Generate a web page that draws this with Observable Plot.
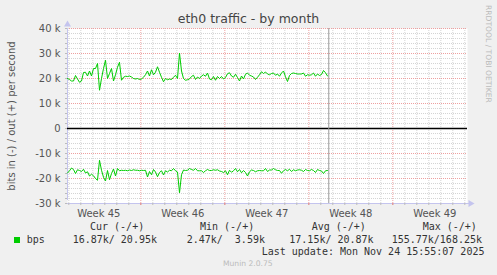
<!DOCTYPE html>
<html><head><meta charset="utf-8">
<script src="https://cdn.jsdelivr.net/npm/d3@7"></script>
<script src="https://cdn.jsdelivr.net/npm/@observablehq/plot@0.6"></script>
<style>
html,body{margin:0;padding:0;background:#f0f0f0;}
#wrap{position:relative;width:497px;height:275px;overflow:hidden;background:#f0f0f0;font-family:"DejaVu Sans",sans-serif;}
#wrap svg{position:absolute;left:0;top:0;}
.t{position:absolute;white-space:pre;line-height:1;}
.mono{font-family:"DejaVu Sans Mono",monospace;font-size:10px;color:#333;}
</style></head><body><div id="wrap"></div>
<script>
// ---- data ----
const title = "eth0 traffic - by month";
const yLabel = "bits in (-) / out (+) per second";
const weekLabels = ["Week 45", "Week 46", "Week 47", "Week 48", "Week 49"];
const yTicks = [-30000, -20000, -10000, 0, 10000, 20000, 30000, 40000];
// out (+) in kbit/s, one sample every 4 hours
const outK = [
20.0,19.6,19.0,19.0,21.2,19.8,18.5,19.0,22.4,22.5,21.0,23.0,21.0,24.0,24.0,26.0,
15.3,20.0,24.0,27.3,20.0,22.0,24.0,19.0,21.5,24.5,26.5,19.3,20.5,20.9,20.8,21.0,
20.6,20.0,19.8,20.0,19.6,19.8,20.5,21.5,23.0,21.0,23.5,21.5,22.5,24.7,22.5,20.5,
18.7,20.0,19.5,19.8,19.6,20.5,21.3,20.0,30.2,23.0,20.0,19.3,19.5,19.8,20.8,21.3,
19.6,20.6,20.0,21.0,21.5,20.9,22.2,19.8,19.5,20.8,19.3,20.8,20.0,20.8,19.8,20.4,
21.9,22.3,21.0,20.5,21.7,20.4,19.0,21.0,19.8,21.7,22.2,21.3,21.0,20.6,19.6,20.5,
21.5,22.7,22.0,22.6,21.8,21.5,22.0,22.2,21.3,21.8,20.9,22.2,23.0,20.7,18.8,21.2,
22.0,22.2,22.0,21.8,21.8,21.8,22.2,20.9,21.5,21.3,21.5,22.2,20.9,21.8,21.2,21.6,
23.2,22.3,21.0];
// in (-) in kbit/s, same samples
const inK = [
17.8,16.9,15.8,16.4,18.0,16.5,16.8,17.2,16.3,17.8,17.3,19.0,18.3,18.9,20.0,20.7,
12.7,16.7,19.5,21.0,16.8,20.5,18.0,16.2,19.0,16.0,16.9,16.7,16.8,16.7,16.9,16.6,
16.8,16.5,16.7,16.7,16.9,16.7,16.8,16.7,19.4,17.2,18.5,16.4,17.4,19.3,17.6,16.9,
18.6,16.9,17.4,16.7,16.9,16.0,16.9,17.4,25.7,18.5,16.6,16.8,16.7,16.0,16.4,16.7,
16.0,16.9,16.9,16.9,17.6,16.9,16.4,16.8,16.8,16.5,16.7,16.5,17.0,17.2,17.6,16.9,
18.5,16.7,17.5,16.9,16.0,17.3,16.4,17.7,16.8,17.6,19.0,17.3,16.6,16.8,17.3,16.9,
16.8,16.9,16.9,16.0,17.2,16.6,16.6,16.0,16.5,16.8,16.8,17.9,16.9,16.4,16.9,16.3,
17.2,16.5,16.9,16.6,16.5,16.7,17.2,16.4,16.8,16.9,16.4,16.8,17.6,16.4,16.8,17.0,
18.0,16.9,16.8];
const seriesName = "bps";
const legendHeaders = ["Cur (-/+)", "Min (-/+)", "Avg (-/+)", "Max (-/+)"];
const legendValues = ["16.87k/ 20.95k", "2.47k/  3.59k", "17.15k/ 20.87k", "155.77k/168.25k"];
const lastUpdateText = "Last update: Mon Nov 24 15:55:07 2025";
const watermark = "RRDTOOL / TOBI OETIKER";
const footer = "Munin 2.0.75";

// ---- time base ----
const HOUR = 3600 * 1000, DAY = 24 * HOUR;
const sampleStepHours = 4;
const lastUpdateTime = new Date(Date.UTC(2025, 10, 24, 15, 55, 7));
const viewStart = new Date(Date.UTC(2025, 10, 2, 21, 22));
const viewEnd = new Date(+viewStart + 800 * HOUR);
const sampleTimes = outK.map((_, i) => new Date(+viewStart + i * sampleStepHours * HOUR));
const outData = outK.map((v, i) => ({t: sampleTimes[i], v: v * 1000}));
const inData = inK.map((v, i) => ({t: sampleTimes[i], v: -v * 1000}));

const days = d3.utcDay.range(viewStart, viewEnd);
const sundays = d3.utcSunday.range(viewStart, viewEnd);
const minorDays = days.filter(d => d.getUTCDay() !== 0);
const weekMid = d3.utcSunday.range(d3.utcSunday.floor(viewStart), viewEnd).map(d => new Date(+d + 3.5 * DAY));
const minorY = d3.range(-30000, 40001, 2000).filter(v => v % 10000 !== 0);
const allY = d3.range(-30000, 40001, 2000);

const GREEN = "#00cc00", AXIS = "#c4c4ee", MINOR = "#d4d4d4", MAJOR = "#eea0a0";

const chart = Plot.plot({
  width: 497, height: 275,
  marginLeft: 67, marginRight: 30, marginTop: 28, marginBottom: 72,
  style: {background: "transparent", fontFamily: "DejaVu Sans", fontSize: "10px", overflow: "visible"},
  x: {type: "utc", domain: [viewStart, viewEnd]},
  y: {domain: [-30000, 40000]},
  marks: [
    Plot.frame({fill: "#ffffff", stroke: "none"}),
    Plot.ruleY(minorY, {stroke: MINOR, strokeDasharray: "1,1"}),
    Plot.ruleX(minorDays, {stroke: MINOR, strokeDasharray: "1,1"}),
    Plot.ruleY(yTicks, {stroke: MAJOR, strokeDasharray: "1,1"}),
    Plot.ruleX(sundays, {stroke: MAJOR, strokeDasharray: "1,1"}),
    Plot.ruleX([viewStart], {y1: -30000, y2: 40000, stroke: AXIS, insetTop: -3}),
    Plot.ruleY([-30000], {x1: viewStart, x2: viewEnd, stroke: AXIS, insetRight: -3}),
    Plot.dot([viewEnd], {x: d => d, y: () => -30000, symbol: "triangle", r: 2.6, rotate: 90, fill: AXIS, stroke: "none", dx: 3}),
    Plot.dot([viewStart], {x: d => d, y: () => 40000, symbol: "triangle", r: 2.6, fill: AXIS, stroke: "none", dy: -4}),
    Plot.axisY(allY, {tickSize: 2, tickFormat: () => "", stroke: "#bbb", label: null}),
    Plot.axisX(days, {tickSize: 2, tickFormat: () => "", stroke: "#bbb", label: null}),
    Plot.axisX(sundays, {tickSize: 2, tickFormat: () => "", stroke: "#ee8888", label: null}),
    Plot.axisY(yTicks, {tickSize: 0, tickPadding: 7, fill: "#555", label: null,
      tickFormat: d => d === 0 ? "0" : `${d / 1000} k`}),
    Plot.axisX(weekMid, {tickSize: 0, tickPadding: 6, fill: "#555", label: null,
      tickFormat: d => weekLabels[weekMid.findIndex(w => +w === +d)]}),
    Plot.ruleY([0], {stroke: "#000", strokeWidth: 1.3}),
    Plot.lineY(outData, {x: "t", y: "v", stroke: GREEN, strokeWidth: 1}),
    Plot.lineY(inData, {x: "t", y: "v", stroke: GREEN, strokeWidth: 1}),
    Plot.ruleX([lastUpdateTime], {stroke: "#999"})
  ]
});

const wrap = document.getElementById("wrap");
wrap.appendChild(chart);

function addText(txt, left, top, cls, style) {
  const d = document.createElement("div");
  d.className = "t " + (cls || "");
  d.textContent = txt;
  d.style.left = left + "px";
  d.style.top = top + "px";
  Object.assign(d.style, style || {});
  wrap.appendChild(d);
  return d;
}
// title
addText(title, 0, 13.4, "", {width: "497px", textAlign: "center", fontSize: "12.5px", color: "#444"});
// y label
addText(yLabel, -88.5, 111, "", {width: "200px", textAlign: "center", fontSize: "10px", color: "#555", transform: "rotate(-90deg)", transformOrigin: "50% 50%"});
// watermark
addText(watermark, 491.5, 5, "", {fontSize: "7.6px", color: "#bbb", transform: "rotate(90deg)", transformOrigin: "0 0"});
// legend
const sq = document.createElement("div");
Object.assign(sq.style, {position: "absolute", left: "14px", top: "237px", width: "6px", height: "6px", background: GREEN});
wrap.appendChild(sq);
addText(seriesName, 26.7, 235, "mono");
const headerLeft = [90, 200, 311.7, 422.7];
const valueLeft = [72.7, 186.7, 289.3, 391.7];
legendHeaders.forEach((h, i) => addText(h, headerLeft[i], 222.3, "mono"));
legendValues.forEach((v, i) => addText(v, valueLeft[i], 235, "mono"));
addText(lastUpdateText, 261.7, 247, "mono");
addText(footer, 223, 260, "", {fontSize: "7.6px", color: "#bbb"});
</script></body></html>
